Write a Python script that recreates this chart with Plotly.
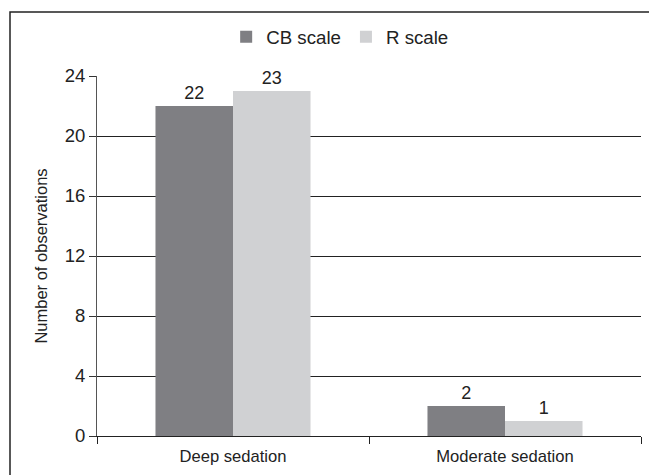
import plotly.graph_objects as go

categories = ["Deep sedation", "Moderate sedation"]
cb_scale = [22, 2]
r_scale = [23, 1]
y_ticks = [0, 4, 8, 12, 16, 20, 24]

font = "Liberation Sans, Arial, sans-serif"
fs_x = 16.6
fs_y = 18.5
fs_lab = 18
fs_leg = 18.7

fig = go.Figure()
fig.add_trace(go.Bar(name="CB scale", x=categories, y=cb_scale, marker_color="#7f7f83",
                     marker_line_width=0, text=cb_scale, textposition="outside",
                     textfont=dict(size=fs_lab, color="#222")))
fig.add_trace(go.Bar(name="R scale", x=categories, y=r_scale, marker_color="#d0d1d3",
                     marker_line_width=0, text=r_scale, textposition="outside",
                     textfont=dict(size=fs_lab, color="#222")))

W, H = 657, 475
# page has an 8px body margin; compensate
ml, mr, mt, mb = 89, 24, 68, 47
pw, ph = W - ml - mr, H - mt - mb

fig.update_layout(
    width=W, height=H,
    margin=dict(l=ml, r=mr, t=mt, b=mb, autoexpand=False),
    paper_bgcolor="white", plot_bgcolor="white",
    font=dict(family=font, size=fs_x, color="#222"),
    barmode="group", bargap=0.43, bargroupgap=0,
    showlegend=True,
    legend=dict(orientation="h", x=0.447, xanchor="center", y=1 + 39 / ph, yanchor="middle",
                font=dict(size=fs_leg), itemwidth=30, traceorder="normal", bgcolor="rgba(0,0,0,0)"),
)
fig.update_xaxes(
    showline=True, linecolor="#222", linewidth=1,
    ticks="outside", tickson="boundaries", ticklen=7, tickcolor="#222",
    showgrid=False, tickfont=dict(size=fs_x), automargin=False, ticklabelstandoff=5,
)
fig.update_yaxes(
    range=[0, 24], tickvals=y_ticks, showline=True, linecolor="#555", linewidth=1,
    ticks="outside", ticklen=7, tickcolor="#333",
    showgrid=True, gridcolor="#222", gridwidth=1.2, zeroline=False,
    tickfont=dict(size=fs_y), automargin=False,
    title=dict(text="Number of observations", font=dict(size=16.5), standoff=12),
)
fig.add_shape(type="rect", xref="paper", yref="paper",
              x0=(2 - ml) / pw, x1=1.2, y0=-0.3, y1=1 + (mt - 4) / ph,
              line=dict(color="#222", width=1.5), fillcolor="rgba(0,0,0,0)", layer="above")
fig.update_traces(cliponaxis=False)
fig.write_html("out.html")
